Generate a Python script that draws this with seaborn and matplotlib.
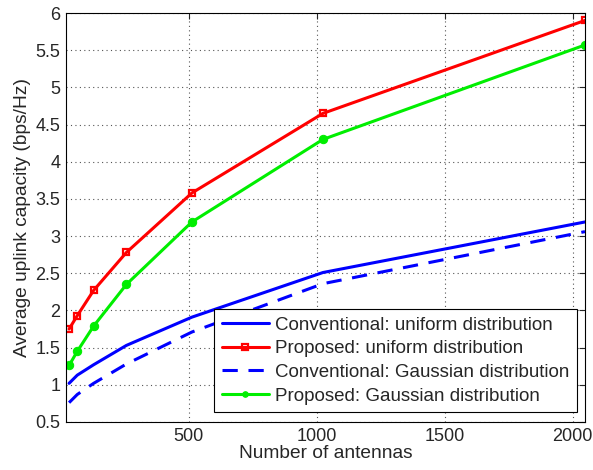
import matplotlib
matplotlib.use("Agg")
import matplotlib.pyplot as plt
import seaborn as sns
import numpy as np

antennas = [32, 64, 128, 256, 512, 1024, 2048]
conv_uniform = [1.02, 1.13, 1.27, 1.53, 1.91, 2.51, 3.19]
prop_uniform = [1.75, 1.93, 2.27, 2.78, 3.58, 4.65, 5.90]
conv_gauss = [0.76, 0.87, 1.02, 1.28, 1.71, 2.36, 3.06]
prop_gauss = [1.26, 1.45, 1.79, 2.35, 3.19, 4.30, 5.57]
labels = ["Conventional: uniform distribution",
          "Proposed: uniform distribution",
          "Conventional: Gaussian distribution",
          "Proposed: Gaussian distribution"]
xticks = [500, 1000, 1500, 2000]
yticks = [0.5, 1, 1.5, 2, 2.5, 3, 3.5, 4, 4.5, 5, 5.5, 6]

sns.set_style("white")
plt.rcParams['font.family'] = ['Liberation Sans', 'DejaVu Sans']

fig = plt.figure(figsize=(5.93, 4.70), dpi=100)
ax = fig.add_axes([66/593, 1-422/470, (585-66)/593, (422-13)/470])

sns.lineplot(x=antennas, y=conv_uniform, ax=ax, color='#0000ff', lw=2.2, label=labels[0])
sns.lineplot(x=antennas, y=prop_uniform, ax=ax, color='#ff0000', lw=2.2, marker='s',
             markersize=4.8, markerfacecolor='none', markeredgecolor='#ff0000',
             markeredgewidth=1.6, label=labels[1])
sns.lineplot(x=antennas, y=conv_gauss, ax=ax, color='#0000ff', lw=2.2, label=labels[2])
ax.lines[-1].set_dashes([5, 3.5])
sns.lineplot(x=antennas, y=prop_gauss, ax=ax, color='#00ee00', lw=2.2, marker='o',
             markersize=6, markeredgecolor='#00ee00', label=labels[3])

ax.set_xlim(20, 2048)
ax.set_ylim(0.5, 6)
ax.set_xticks(xticks)
ax.set_yticks(yticks)
ax.set_yticklabels([f"{v:g}" for v in yticks])
ax.tick_params(direction='in', top=True, right=True, labelsize=13, length=4, width=0.8, pad=4)
ax.grid(True, linestyle=(0, (1, 3)), color='#555555', linewidth=0.8)
for s in ax.spines.values():
    s.set_color('black')
    s.set_linewidth(0.8)
ax.set_xlabel("Number of antennas", fontsize=13.75, labelpad=0)
ax.set_ylabel("Average uplink capacity (bps/Hz)", fontsize=13.75, labelpad=3)

handles, labs = ax.get_legend_handles_labels()
leg = ax.legend(handles, labs, loc='lower right', bbox_to_anchor=(0.985, 0.024),
                fontsize=13.5, frameon=True, fancybox=False, framealpha=1,
                edgecolor='black', borderpad=0.4, labelspacing=0.35,
                handlelength=2.5, handletextpad=0.35, borderaxespad=0)
leg.get_frame().set_linewidth(0.8)
for ln in leg.get_lines():
    ln.set_markersize(4)

fig.savefig("out.png", dpi=100)
